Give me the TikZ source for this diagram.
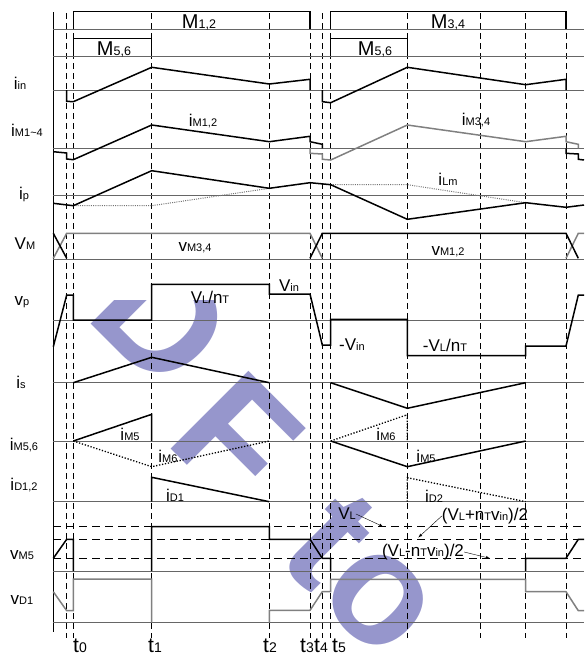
\documentclass[tikz,border=0pt]{standalone}
\usepackage{fontspec}
\setmainfont{Liberation Sans}
\definecolor{wmblue}{RGB}{150,150,204}
\newcommand\losz{11}
\newcommand\lo[1]{{\fontsize{\losz}{\losz}\selectfont #1}}

\begin{document}
\begin{tikzpicture}[x=1pt, y=-1pt,
    wave/.style={line width=1.5pt},
    gwave/.style={line width=1.5pt, draw=black!50},
    base/.style={line width=0.9pt, draw=black!60},
    tline/.style={line width=0.9pt, dash pattern=on 6pt off 4pt},
    lvl/.style={line width=0.9pt, dash pattern=on 8pt off 5pt},
    dots/.style={line width=1.3pt, dash pattern=on 1.3pt off 1.7pt},
    gdots/.style={line width=1pt, draw=black!55, dash pattern=on 1pt off 1.2pt},
    lbl/.style={inner sep=0pt, font=\fontsize{17}{17}\selectfont\renewcommand\losz{11}},
    big/.style={inner sep=0pt, font=\fontsize{20}{20}\selectfont\renewcommand\losz{12.5}},
    tlbl/.style={inner sep=0pt, font=\fontsize{21}{21}\selectfont\renewcommand\losz{14}},
    wm/.style={inner sep=0pt, text=wmblue, rotate=-45, font=\fontsize{160}{160}\selectfont\bfseries}]
    \useasboundingbox (0,0) rectangle (584,656);

    % watermark, only its lower part shows
    \begin{scope}
        \clip (0,300) rectangle (584,656);
        \node[wm] (wmD) at (163,318) {D};
        \node[wm] (wmF) at (237,437) {F};
        \node[wm] (wmt) at (330,540) {t};
        \node[wm] (wmo) at (378,600) {o};
    \end{scope}

    % time lines and axis
    \foreach \x in {66.7,73.3,151.7,269.3,310,322.3,330.7,407.3,480.7,525.7,566}
        \draw[tline] (\x,13) -- (\x,638);
    \draw[line width=1pt] (53.3,12) -- (53.3,632);
    \foreach \y in {29.3,56,90,148.3,195,259,320,382.7,441,501.7,571,622.7}
        \draw[base] (53.3,\y) -- (584,\y);
    \foreach \y in {526.7,539.3,558.3}
        \draw[lvl] (53.3,\y) -- (584,\y);

    % gate signals
    \draw[wave] (73.3,29.3) |- (310,11.7) -- (310,29.3);
    \draw[wave] (330.7,29.3) |- (566,11.7) -- (566,29.3);
    \draw[wave] (73.3,56) |- (151.7,38.3) -- (151.7,56);
    \draw[wave] (330.7,56) |- (407.3,38.3) -- (407.3,56);

    % i_in
    \draw[wave] (66.7,90) -- (66.7,101.3) -- (73.3,101.7) -- (151.7,67.3) -- (269.3,84) -- (310,79.3) -- (310,90);
    \draw[wave] (322.3,90) -- (322.3,101.7) -- (330.7,102.7) -- (407.3,67.3) -- (525.7,84.7) -- (566,79.3) -- (566,90);

    % i_M1~4
    \draw[wave] (53.3,151.7) -- (66.7,153) -- (66.7,159) -- (73.3,159.7) -- (151.7,125) -- (269.3,141.7) -- (310,136.3)
        -- (310,141.7) -- (322.3,144.3) -- (322.3,148.3);
    \draw[gwave] (310,148.3) -- (310,153.3) -- (322.3,154) -- (322.3,159.3) -- (330.7,160) -- (407.3,125) -- (525.7,141.7)
        -- (566,136.3) -- (566,141.7) -- (578.3,144.3) -- (578.3,148.3);
    \draw[wave] (566,148.3) -- (566,153.3) -- (578.3,154) -- (578.3,159.3) -- (584,160);

    % i_p and i_Lm
    \draw[gdots] (73.3,205.7) -- (151.7,205.7) -- (269.3,188.3);
    \draw[gdots] (330.7,184.7) -- (407.3,184.7) -- (525.7,202.7);
    \draw[wave] (53.3,203.3) -- (73.3,205.7) -- (151.7,170.7) -- (269.3,188.3) -- (310,182.7) -- (330.7,184.7)
        -- (407.3,219.3) -- (525.7,202.7) -- (566,207.3) -- (584,205);

    % V_M
    \draw[gwave] (53.3,258.3) -- (66.7,233.3) -- (310,233.3) -- (322.3,258.3);
    \draw[gwave] (566,258.3) -- (578.3,233.3) -- (584,233.3);
    \draw[wave] (53.3,233.3) -- (66.7,258.3);
    \draw[wave] (310,258.3) -- (322.3,233.3) -- (566,233.3) -- (578.3,258.3);

    % v_p
    \draw[wave] (53.3,346.7) -- (66.7,295) -- (73.3,295) -- (73.3,320) -- (151.7,320) -- (151.7,284.3) -- (269.3,284.3)
        -- (269.3,294) -- (310,294) -- (322.3,345) -- (330.7,345) -- (330.7,319.3) -- (407.3,319.3) -- (407.3,355.7)
        -- (525.7,355.7) -- (525.7,346) -- (566,346) -- (578.3,295) -- (584,295);

    % i_s
    \draw[wave] (73.3,382.7) -- (151.7,357.3) -- (269.3,382.7);
    \draw[wave] (330.7,382.7) -- (407.3,408.3) -- (525.7,382.7);

    % i_M5,6
    \draw[wave] (73.3,441) -- (151.7,414.3) -- (151.7,441);
    \draw[dots] (73.3,441) -- (151.7,466.7) -- (269.3,441);
    \draw[dots] (330.7,441) -- (407.3,414.7) -- (407.3,441);
    \draw[wave] (330.7,441) -- (407.3,466.7) -- (525.7,441);

    % i_D1,2
    \draw[wave] (151.7,501.7) -- (151.7,477.3) -- (269.3,501.7);
    \draw[dots] (407.3,501.7) -- (407.3,477.7) -- (525.7,501.7);

    % v_M5
    \draw[wave] (53.3,558.3) -- (66.7,539.3) -- (73.3,539.3) -- (73.3,571);
    \draw[wave] (151.7,571) -- (151.7,526.7) -- (269.3,526.7) -- (269.3,539.3) -- (310,539.3) -- (322.3,558.3)
        -- (330.7,558.3) -- (330.7,571);
    \draw[wave] (525.7,571) -- (525.7,558.3) -- (566,558.3) -- (578.3,539.3) -- (584,539.3);

    % v_D1
    \draw[gwave] (53.3,591.7) -- (66.7,610.7) -- (73.3,610.7) -- (73.3,579) -- (151.7,579) -- (151.7,622.7);
    \draw[gwave] (269.3,622.7) -- (269.3,610.3) -- (310,610.3) -- (322.3,591.7) -- (330.7,591.7) -- (330.7,579.3)
        -- (525.7,579.3) -- (525.7,591.7) -- (566,591.7) -- (578.3,610.7) -- (584,610.7);

    % row names
    \node[lbl] (nin)  at (20,83)  {i\lo{in}};
    \node[lbl] (nm14) at (27,130) {i\lo{M1\textasciitilde4}};
    \node[lbl] (np)   at (24,194) {i\lo{p}};
    \node[lbl] (nvm)  at (25,244) {V\lo{M}};
    \node[lbl] (nvp)  at (22,302) {v\lo{p}};
    \node[lbl] (ns)   at (21,382) {i\lo{s}};
    \node[lbl] (nm56) at (24,445) {i\lo{M5,6}};
    \node[lbl] (nd12) at (24,485) {i\lo{D1,2}};
    \node[lbl] (nvm5) at (22,555) {v\lo{M5}};
    \node[lbl] (nvd1) at (22,600) {v\lo{D1}};

    % labels in the plot
    \node[big] (m12)  at (199,22)  {M\lo{1,2}};
    \node[big] (m34)  at (448,22)  {M\lo{3,4}};
    \node[big] (m56a) at (114,49)  {M\lo{5,6}};
    \node[big] (m56b) at (375,49)  {M\lo{5,6}};
    \node[lbl] (im12) at (203,121) {i\lo{M1,2}};
    \node[lbl] (im34) at (476,120) {i\lo{M3,4}};
    \node[lbl] (ilm)  at (448,179) {i\lo{Lm}};
    \node[lbl] (vm34) at (195,248) {v\lo{M3,4}};
    \node[lbl] (vm12) at (448,252) {v\lo{M1,2}};
    \node[lbl] (vlnt) at (210,297) {V\lo{L}/n\lo{T}};
    \node[lbl] (vin)  at (289,286) {V\lo{in}};
    \node[lbl] (mvin) at (352,345) {-V\lo{in}};
    \node[lbl] (mvlnt) at (445,345) {-V\lo{L}/n\lo{T}};
    \node[lbl] (im5a) at (130,434) {i\lo{M5}};
    \node[lbl] (im6a) at (168,456) {i\lo{M6}};
    \node[lbl] (im6b) at (386,434) {i\lo{M6}};
    \node[lbl] (im5b) at (426,456) {i\lo{M5}};
    \node[lbl] (id1)  at (175,495) {i\lo{D1}};
    \node[lbl] (id2)  at (434,496) {i\lo{D2}};

    % levels of v_M5
    \node[lbl] (vl)     at (347,514) {V\lo{L}};
    \node[lbl] (vplus)  at (485,516) {(V\lo{L}+n\lo{T}v\lo{in})/2};
    \node[lbl] (vminus) at (423,552) {(V\lo{L}-n\lo{T}v\lo{in})/2};
    \coordinate (vlend)     at (383.3,526.7);
    \coordinate (vplusend)  at (418.3,537.5);
    \coordinate (vminusend) at (490,558.3);
    \draw [-latex] (vl.east) -- (vlend);
    \draw [-latex] (vplus.west) -- (vplusend);
    \draw [-latex] (vminus.east) -- (vminusend);

    % instants
    \node[tlbl] (t0) at (80,646)  {t\lo{0}};
    \node[tlbl] (t1) at (155,646) {t\lo{1}};
    \node[tlbl] (t2) at (270,646) {t\lo{2}};
    \node[tlbl] (t3) at (307,646) {t\lo{3}};
    \node[tlbl] (t4) at (321,646) {t\lo{4}};
    \node[tlbl] (t5) at (339,646) {t\lo{5}};
\end{tikzpicture}
\end{document}
